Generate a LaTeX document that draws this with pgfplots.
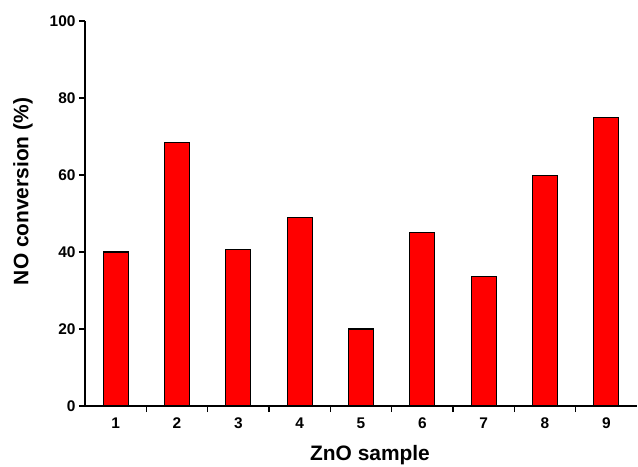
\documentclass[border=0pt]{standalone}
\usepackage{fontspec}
\setmainfont{Liberation Sans}
\usepackage{pgfplots}
\pgfplotsset{compat=1.18}
\begin{document}
\begin{tikzpicture}
\begin{axis}[
  scale only axis,
  width=552bp, height=385bp,
  xmin=0.5, xmax=9.5,
  ymin=0, ymax=100,
  axis lines*=left,
  axis line style={line width=2bp},
  tick align=outside,
  ytick={0,20,40,60,80,100},
  xtick={1,...,9},
  minor xtick={1.5,2.5,...,8.5},
  major x tick style={draw=none},
  minor x tick style={line width=1.5bp, black},
  major y tick style={line width=1.5bp, black},
  major tick length=6bp,
  minor tick length=6bp,
  /pgf/number format/assume math mode=true,
  ticklabel style={font=\fontsize{15.5}{18}\selectfont\bfseries},
  xticklabel style={yshift=-2bp},
  xlabel={ZnO sample},
  ylabel={NO conversion (\%)},
  every axis x label/.style={at={(rel axis cs:0.5,0)}, anchor=center, yshift=-49bp, xshift=9bp, font=\fontsize{21}{25}\selectfont\bfseries},
  every axis y label/.style={at={(rel axis cs:0,0.5)}, anchor=center, xshift=-62bp, yshift=22bp, rotate=90, font=\fontsize{21}{25}\selectfont\bfseries},
  clip=false,
]
\addplot[ybar, bar width=25bp, fill=red, draw=black, line width=1.3bp] coordinates {
  (1,40) (2,68.5) (3,40.7) (4,49) (5,20) (6,45) (7,33.6) (8,59.8) (9,75)
};
\end{axis}
\pgfresetboundingbox
\path[use as bounding box] ([xshift=-85bp,yshift=-61bp]current axis.south west) rectangle ([xshift=1bp,yshift=21bp]current axis.north east);
\end{tikzpicture}
\end{document}
